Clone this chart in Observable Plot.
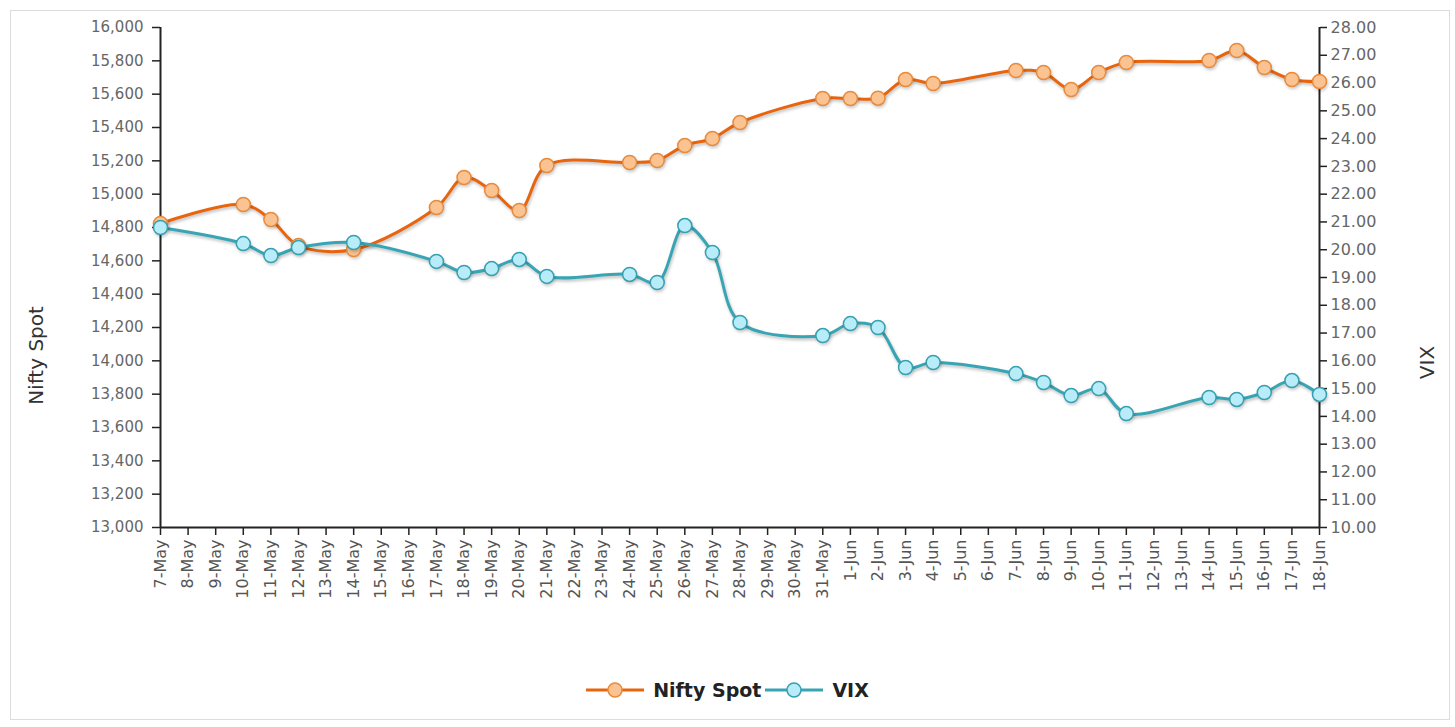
<!DOCTYPE html>
<html>
<head>
<meta charset="utf-8">
<script src="https://cdn.jsdelivr.net/npm/d3@7"></script>
<script src="https://cdn.jsdelivr.net/npm/@observablehq/plot@0.6"></script>
<style>
  html, body { margin: 0; padding: 0; background: #fff; }
  #frame { position: absolute; left: 10px; top: 10px; width: 1440px; height: 710px; border: 1px solid #dcdcdc; box-sizing: border-box; pointer-events: none; }
  #chart { position: relative; }
  #chart svg [aria-label="line"] path { filter: drop-shadow(1px 2px 1.5px rgba(0,0,0,0.25)); }
  #chart svg [aria-label="dot"] circle { filter: drop-shadow(1px 2px 1.5px rgba(0,0,0,0.2)); }
  #legend { position: relative; height: 50px; display: flex; justify-content: center; align-items: center; font-family: "DejaVu Sans", sans-serif; font-weight: bold; font-size: 19px; color: #222; }
  #legend .item { display: flex; align-items: center; margin: 0 2px; }
  #legend svg { display: block; margin-right: 9px; }
</style>
</head>
<body>
<div id="frame"></div>
<div id="chart"></div>
<div id="legend"></div>
<script>
// ---- data ----
const days = [
  "7-May","8-May","9-May","10-May","11-May","12-May","13-May","14-May","15-May","16-May",
  "17-May","18-May","19-May","20-May","21-May","22-May","23-May","24-May","25-May","26-May",
  "27-May","28-May","29-May","30-May","31-May",
  "1-Jun","2-Jun","3-Jun","4-Jun","5-Jun","6-Jun","7-Jun","8-Jun","9-Jun","10-Jun",
  "11-Jun","12-Jun","13-Jun","14-Jun","15-Jun","16-Jun","17-Jun","18-Jun"
];
const tradeDays = [
  "7-May","10-May","11-May","12-May","14-May","17-May","18-May","19-May","20-May","21-May",
  "24-May","25-May","26-May","27-May","28-May","31-May",
  "1-Jun","2-Jun","3-Jun","4-Jun","7-Jun","8-Jun","9-Jun","10-Jun","11-Jun",
  "14-Jun","15-Jun","16-Jun","17-Jun","18-Jun"
];
const niftySpot = [
  14824,14938,14848,14692,14668,14920,15100,15022,14902,15172,
  15190,15202,15292,15334,15430,15574,
  15574,15576,15688,15664,15742,15730,15628,15730,15790,
  15802,15862,15760,15688,15676
];
const vixValues = [
  20.80,20.22,19.79,20.08,20.26,19.58,19.18,19.32,19.65,19.04,
  19.11,18.82,20.87,19.90,17.38,16.91,
  17.34,17.20,15.76,15.94,15.54,15.22,14.75,15.00,14.10,
  14.68,14.61,14.86,15.29,14.79
];
const niftyTicks = d3.range(13000, 16001, 200);
const vixTicks = d3.range(10, 28.001, 1);
const niftyDomain = [13000, 16000];
const vixDomain = [10, 28];
const seriesNames = ["Nifty Spot", "VIX"];

// ---- helpers: map VIX onto the Nifty scale (dual axis) ----
const vixToNifty = v => niftyDomain[0] + (v - vixDomain[0]) * (niftyDomain[1] - niftyDomain[0]) / (vixDomain[1] - vixDomain[0]);
const niftyToVix = n => vixDomain[0] + (n - niftyDomain[0]) * (vixDomain[1] - vixDomain[0]) / (niftyDomain[1] - niftyDomain[0]);

const niftyData = tradeDays.map((d, i) => ({day: d, value: niftySpot[i]}));
const vixData = tradeDays.map((d, i) => ({day: d, value: vixToNifty(vixValues[i]), raw: vixValues[i]}));

const orange = {line: "#e8650e", fill: "#fbc391", stroke: "#e98a3a"};
const teal = {line: "#38a5b5", fill: "#b7ecf8", stroke: "#34a0b1"};

const font = "'DejaVu Sans', sans-serif";

const chart = Plot.plot({
  width: 1455,
  height: 665,
  marginLeft: 160,
  marginRight: 136,
  marginTop: 27,
  marginBottom: 138,
  style: {fontFamily: font, background: "transparent", overflow: "visible"},
  x: {type: "point", domain: days, padding: 0, round: false},
  y: {domain: niftyDomain},
  marks: [
    Plot.axisX({tickRotate: -90, tickSize: 8, tickPadding: 4, fontSize: 16, fill: "#555", stroke: "#222", strokeWidth: 1.5, label: null}),
    Plot.axisY(niftyTicks, {anchor: "left", tickFormat: d3.format(","), tickSize: 8, tickPadding: 9, fontSize: 15, fill: "#666", stroke: "#222", strokeWidth: 1.5, label: null}),
    Plot.axisY(vixTicks.map(vixToNifty), {anchor: "right", tickFormat: d => niftyToVix(d).toFixed(2), tickSize: 7, tickPadding: 4, fontSize: 16, fill: "#666", stroke: "#222", strokeWidth: 1.5, label: null}),
    Plot.ruleY([niftyDomain[0]], {stroke: "#222", strokeWidth: 2}),
    Plot.ruleX([days[0], days[days.length - 1]], {y1: niftyDomain[0], y2: niftyDomain[1], stroke: "#222", strokeWidth: 2}),
    Plot.line(niftyData, {x: "day", y: "value", stroke: orange.line, strokeWidth: 3, curve: "catmull-rom"}),
    Plot.line(vixData, {x: "day", y: "value", stroke: teal.line, strokeWidth: 3, curve: "catmull-rom"}),
    Plot.dot(niftyData, {x: "day", y: "value", r: 7, fill: orange.fill, stroke: orange.stroke, strokeWidth: 1.5}),
    Plot.dot(vixData, {x: "day", y: "value", r: 7, fill: teal.fill, stroke: teal.stroke, strokeWidth: 1.5}),
    Plot.text([seriesNames[0]], {text: d => d, frameAnchor: "left", textAnchor: "middle", dx: -124, dy: 78, rotate: -90, fontSize: 20, fill: "#333", fontFamily: font}),
    Plot.text([seriesNames[1]], {text: d => d, frameAnchor: "right", textAnchor: "middle", dx: 108, dy: 85, rotate: -90, fontSize: 20, fill: "#333", fontFamily: font})
  ]
});
document.getElementById("chart").appendChild(chart);

// ---- legend ----
const legend = document.getElementById("legend");
[[seriesNames[0], orange], [seriesNames[1], teal]].forEach(([name, c]) => {
  const item = document.createElement("div");
  item.className = "item";
  item.innerHTML = `<svg width="58" height="20"><line x1="0" x2="58" y1="10" y2="10" stroke="${c.line}" stroke-width="3"/><circle cx="29" cy="10" r="7" fill="${c.fill}" stroke="${c.stroke}" stroke-width="1.5"/></svg><span>${name}</span>`;
  legend.appendChild(item);
});
</script>
</body>
</html>
